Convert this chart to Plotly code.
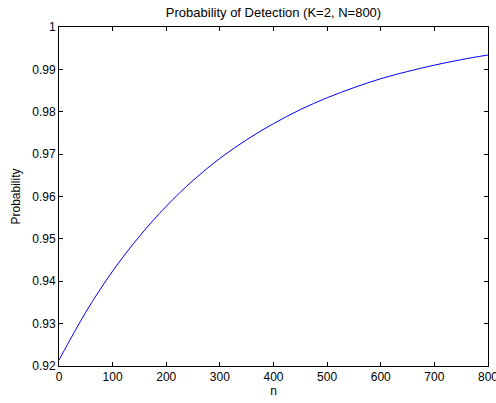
import plotly.graph_objects as go

n_vals = [0, 50, 100, 150, 200, 250, 300, 350, 400, 450, 500, 550, 600, 650, 700, 750, 800]
prob_vals = [0.9214, 0.9327, 0.9424, 0.9506, 0.9577, 0.9638, 0.9690, 0.9734, 0.9772,
             0.9805, 0.9833, 0.9857, 0.9878, 0.9895, 0.9910, 0.9923, 0.9934]
x_ticks = [0, 100, 200, 300, 400, 500, 600, 700, 800]
x_ticktext = ["0", "100", "200", "300", "400", "500", "600", "700", "800"]
y_ticks = [0.92, 0.93, 0.94, 0.95, 0.96, 0.97, 0.98, 0.99, 1.0]
y_ticktext = ["0.92", "0.93", "0.94", "0.95", "0.96", "0.97", "0.98", "0.99", "1"]

fig = go.Figure()
fig.add_trace(go.Scatter(x=n_vals, y=prob_vals, mode="lines",
                         line=dict(color="#0000FF", width=1, shape="spline"),
                         showlegend=False))

font = "Liberation Sans, Arial, sans-serif"
fig.update_layout(
    width=496, height=403,
    margin=dict(l=59, r=8, t=27, b=37, autoexpand=False),
    paper_bgcolor="white", plot_bgcolor="white",
    font=dict(family=font, size=12, color="black"),
    title=dict(text="Probability of Detection (K=2, N=800)", x=0.5, xanchor="center",
               xref="paper", y=1 - 12 / 403, yanchor="middle", font=dict(size=13, family=font)),
    xaxis=dict(range=[0, 800], tickvals=x_ticks, ticktext=x_ticktext,
               ticklabeloverflow="allow", automargin=False,
               showgrid=False, zeroline=False, showline=True, linecolor="black", linewidth=1,
               mirror="ticks", ticks="inside", ticklen=4, tickcolor="black",
               title=dict(text="n", font=dict(size=12), standoff=3)),
    yaxis=dict(range=[0.92, 1.0], tickvals=y_ticks, ticktext=y_ticktext,
               ticklabeloverflow="allow", automargin=False,
               showgrid=False, zeroline=False, showline=True, linecolor="black", linewidth=1,
               mirror="ticks", ticks="inside", ticklen=4, tickcolor="black",
               title=dict(text="Probability", font=dict(size=12), standoff=9)),
)

fig.write_html("out.html")
